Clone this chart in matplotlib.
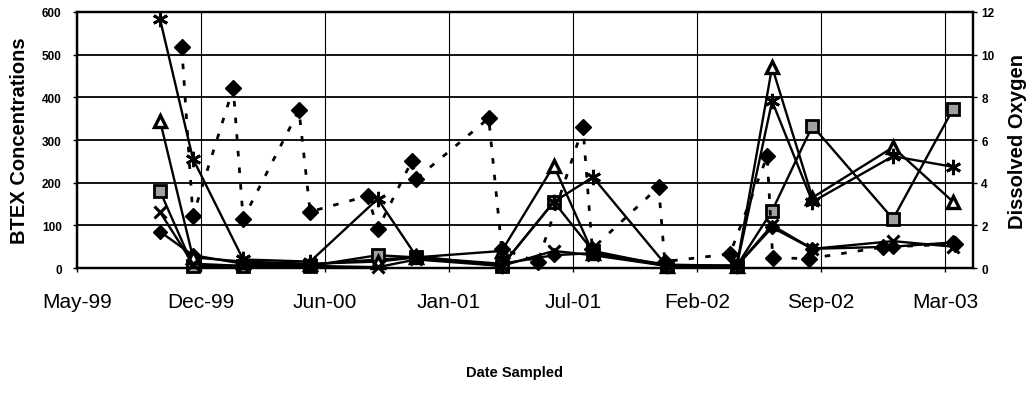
import pandas as pd
import matplotlib
matplotlib.use("Agg")
import matplotlib.pyplot as plt
import matplotlib.dates as mdates

plt.rcParams['font.family'] = ['Liberation Sans', 'DejaVu Sans']

# sample dates for the BTEX series
dates = ['1999-10-03', '1999-11-25', '2000-02-14', '2000-06-01', '2000-09-18',
         '2000-11-19', '2001-04-06', '2001-06-29', '2001-08-31', '2001-12-28',
         '2002-04-20', '2002-06-16', '2002-08-20', '2002-12-28', '2003-04-04']

diamond = [85, 30, 10, 8, 20, 25, 10, 30, 35, 8, 5, 95, 45, 50, 60]
square = [180, 5, 5, 5, 30, 25, 5, 155, 40, 5, 5, 134, 333, 115, 373]
triangle = [345, 25, 15, 10, 15, 25, 40, 240, 35, 5, 5, 471, 165, 283, 155]
xmark = [131, 10, 5, 5, 2, 20, 5, 40, 30, 5, 5, 100, 45, 63, 50]
star = [583, 256, 20, 15, 162, 28, 5, 155, 213, 5, 5, 391, 155, 262, 237]

# dissolved oxygen (secondary axis)
do_dates = ['1999-11-07', '1999-11-25', '2000-01-29', '2000-02-14', '2000-05-14',
            '2000-06-01', '2000-09-02', '2000-09-18', '2000-11-12', '2000-11-19',
            '2001-03-16', '2001-04-06', '2001-06-03', '2001-08-15', '2001-08-30',
            '2001-12-15', '2001-12-25', '2002-04-09', '2002-06-08', '2002-06-17',
            '2002-08-15', '2002-12-12', '2003-04-07']
do_vals = [10.36, 2.44, 8.44, 2.3, 7.4, 2.64, 3.38, 1.82, 5.02, 4.18,
           7.02, 0.9, 0.28, 6.6, 0.9, 3.8, 0.3, 0.66, 5.24, 0.48,
           0.44, 0.98, 1.12]

x = pd.to_datetime(dates)
xd = pd.to_datetime(do_dates)

start = pd.Timestamp('1999-05-22')
ticks = [start + pd.Timedelta(days=200 * k) for k in range(8)]

fig = plt.figure(figsize=(10.29, 4.02), dpi=100)
ax = fig.add_axes([0.0748, 0.3308, 0.8708, 0.6369])
ax2 = ax.twinx()

lw = 1.7
ax.plot(x, diamond, color='black', lw=lw, marker='D', ms=7, mfc='black', mec='black', clip_on=False)
ax.plot(x, square, color='black', lw=lw, marker='s', ms=8.5, mfc='#a0a0a0', mec='black', mew=2, clip_on=False)
ax.plot(x, triangle, color='black', lw=lw, marker='^', ms=9, mfc='white', mec='black', mew=2.4, clip_on=False)
ax.plot(x, xmark, color='black', lw=lw, marker='x', ms=9, mew=2.2, clip_on=False)
ax.plot(x, star, color='black', lw=lw, marker=(6, 2, 0), ms=11, mew=2, clip_on=False)

ax2.plot(xd, do_vals, color='black', lw=2, linestyle=(0, (2, 4)),
         marker='D', ms=8, mfc='black', mec='black', clip_on=False)

ax.set_ylim(0, 600)
ax.set_yticks(range(0, 601, 100))
ax2.set_ylim(0, 12)
ax2.set_yticks(range(0, 13, 2))
ax.set_xlim(start, start + pd.Timedelta(days=1445))
ax.set_xticks(ticks)
ax.xaxis.set_major_formatter(mdates.DateFormatter('%b-%y'))

ax.grid(axis='y', color='black', lw=1.3)
ax.grid(axis='x', color='black', lw=0.8)
ax.set_axisbelow(True)

for a in (ax, ax2):
    for s in a.spines.values():
        s.set_linewidth(1.6)
        s.set_color('black')

ax.tick_params(axis='y', length=3, width=1, pad=8, labelsize=8.5)
ax2.tick_params(axis='y', length=3, width=1, pad=3, labelsize=8.5)
ax.tick_params(axis='x', length=3, width=1, pad=14, labelsize=15)
for lab in ax.get_yticklabels() + ax2.get_yticklabels():
    lab.set_fontweight('bold')

ax.set_ylabel('BTEX Concentrations', fontsize=14.5, fontweight='bold', labelpad=9)
ax2.set_ylabel('Dissolved Oxygen', fontsize=14.5, fontweight='bold', labelpad=10)
fig.text(0.5, 0.072, 'Date Sampled', ha='center', va='center',
         fontsize=10.5, fontweight='bold')

fig.savefig('out.png', dpi=100)
